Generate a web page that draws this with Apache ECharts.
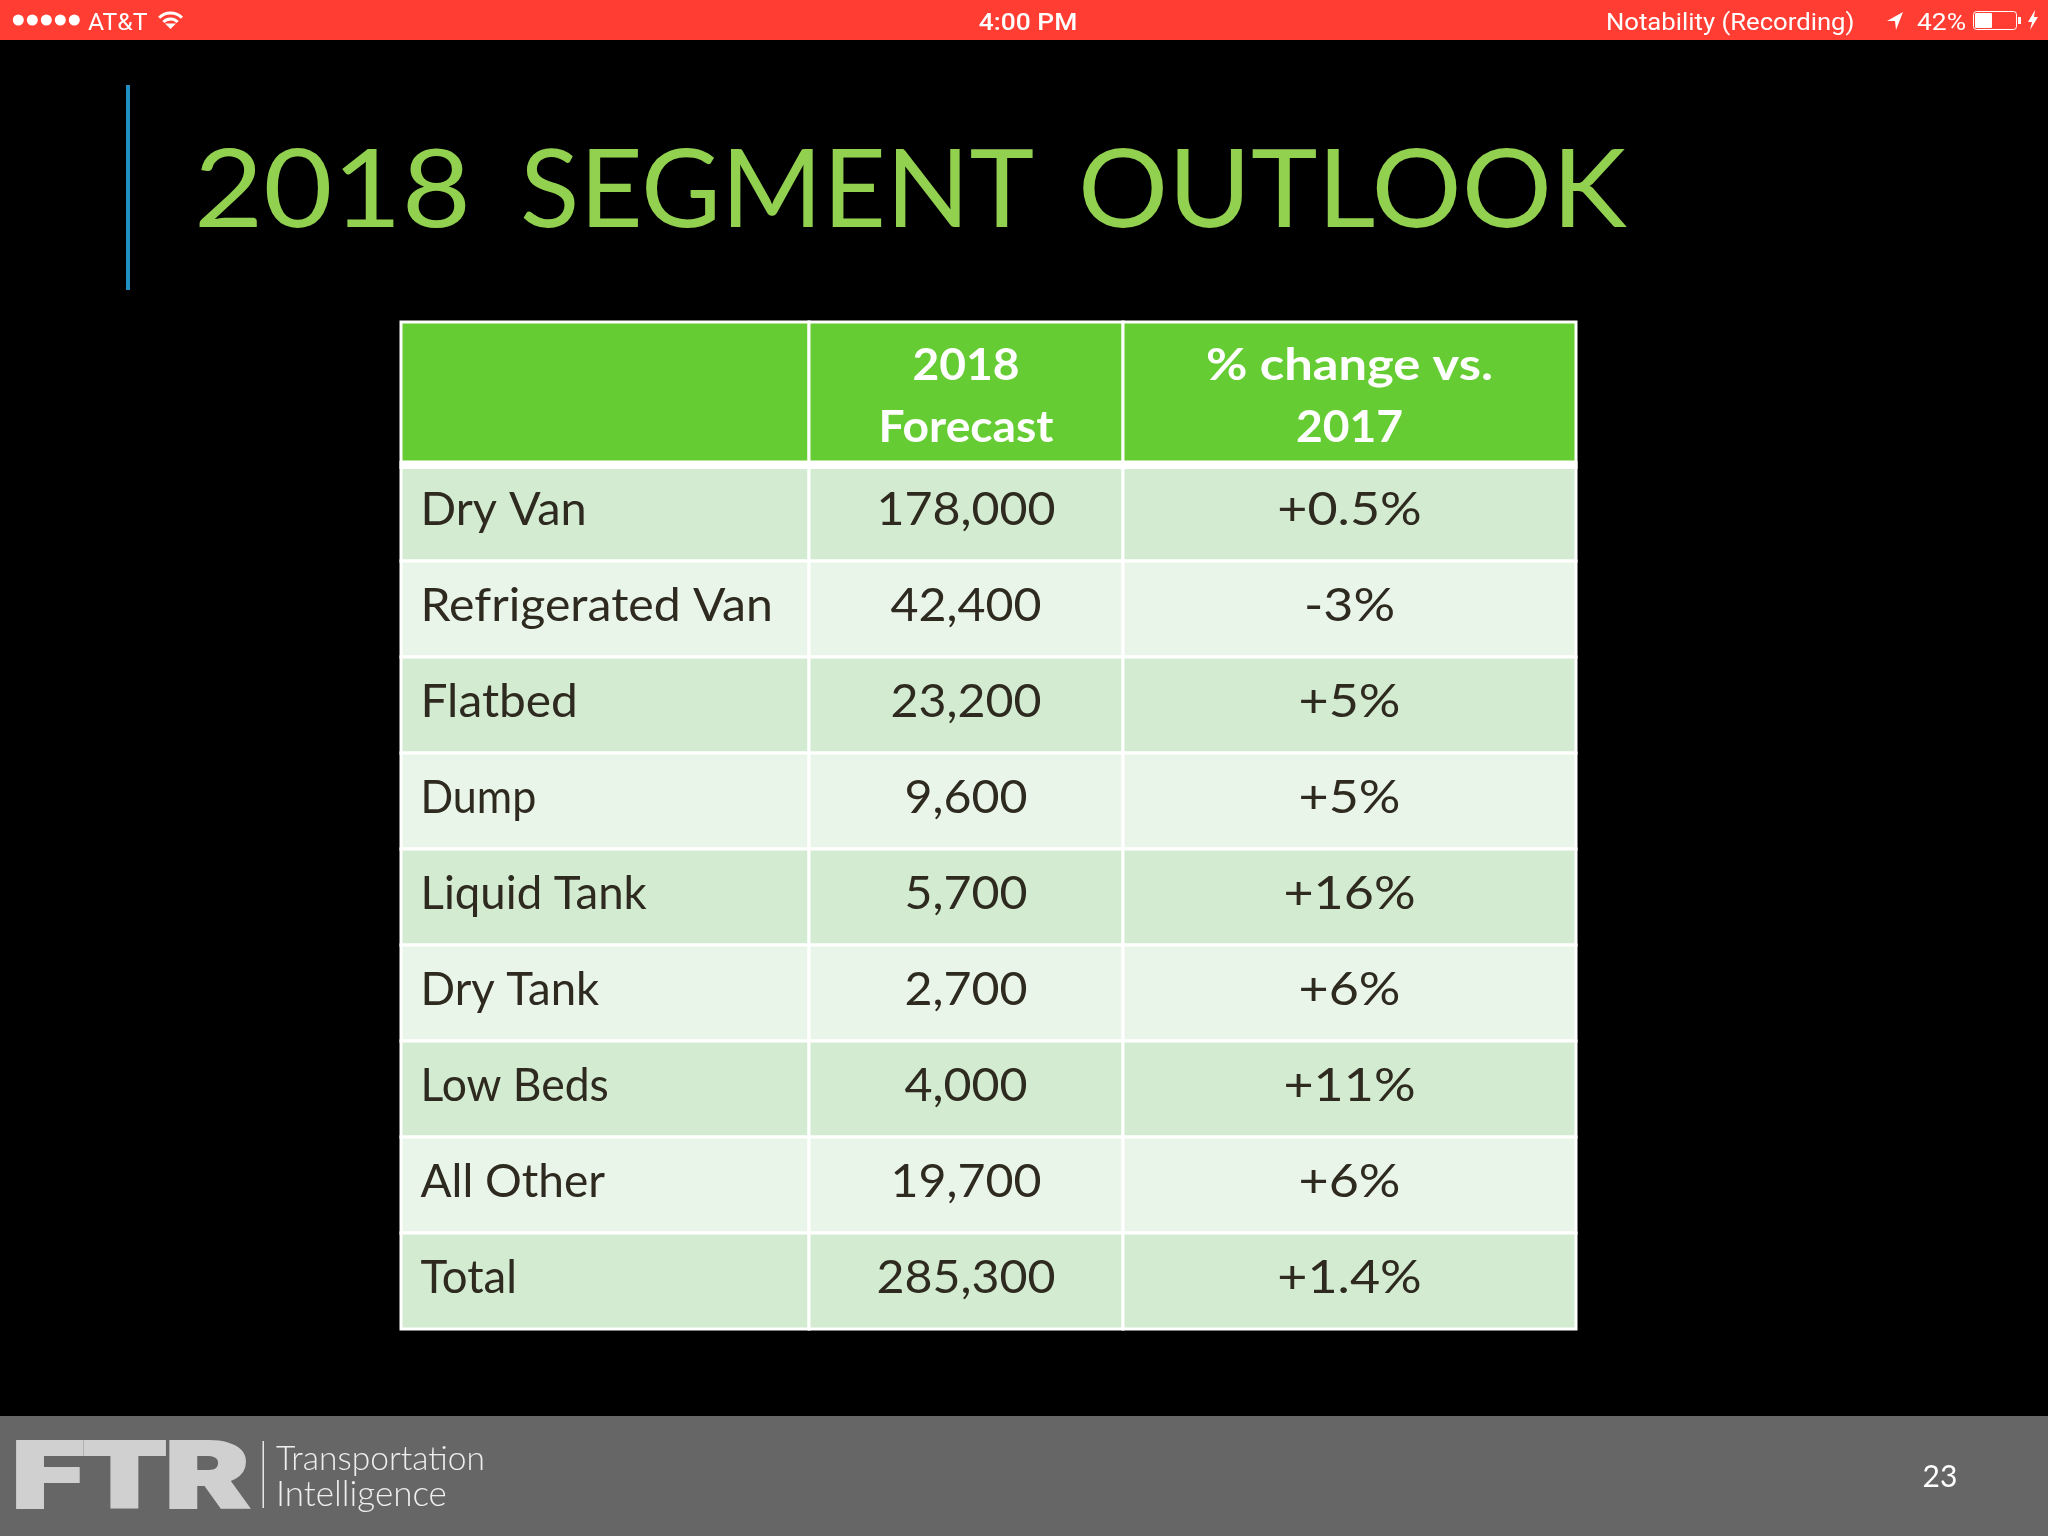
<!DOCTYPE html>
<html>
<head>
<meta charset="utf-8">
<title>2018 Segment Outlook</title>
<script src="https://cdn.jsdelivr.net/npm/echarts@6/dist/echarts.min.js"></script>
<style>
  html, body { margin: 0; padding: 0; background: #000; }
  #main { width: 2048px; height: 1536px; }
</style>
</head>
<body>
<div id="main"></div>
<script>
// table contents
var titleWords = ['2018', 'SEGMENT', 'OUTLOOK'];
var headers = ['', '2018\nForecast', '% change vs.\n2017'];
var segments = ['Dry Van', 'Refrigerated Van', 'Flatbed', 'Dump', 'Liquid Tank', 'Dry Tank', 'Low Beds', 'All Other', 'Total'];
var forecast = [178000, 42400, 23200, 9600, 5700, 2700, 4000, 19700, 285300];
var changes = ['+0.5%', '-3%', '+5%', '+5%', '+16%', '+6%', '+11%', '+6%', '+1.4%'];

// layout
var FONT = 'Lato';
var TABLE_LEFT = 401, COL_EDGES = [0, 408, 722, 1175];
var COL_STRETCH = [1, 1.05, 1.13];
var SEGMENT_STRETCH = [1.02, 1.047, 1.04, 0.935, 0.99, 0.99, 0.966, 1, 0.99];
var HEADER_STRETCH = [[], [1.05, 1.05], [1.15, 1.05]];
var TITLE_X = [194, 520, 1078], TITLE_STRETCH = [1.106, 1.014, 1.043];

function fmt(n) {
  return String(n).replace(/\B(?=(\d{3})+$)/g, ',');
}

var headerCells = headers.map(function (h, c) { return [c, 0]; });
var bodyCells = [];
segments.forEach(function (name, r) {
  [name, fmt(forecast[r]), changes[r]].forEach(function (t, c) {
    bodyCells.push([c, r, t]);
  });
});

function cellRect(api, c) {
  var r = api.value(1);
  var start = api.coord([COL_EDGES[c], r]);
  var end = api.coord([COL_EDGES[c + 1], r]);
  var h = api.size([0, 1])[1];
  return { x: start[0], y: start[1] - h / 2, width: end[0] - start[0], height: h };
}

function renderHeader(params, api) {
  var c = api.value(0);
  var rect = cellRect(api, c);
  var lines = headers[c] ? headers[c].split('\n') : [];
  var kids = [{
    type: 'rect', shape: rect,
    style: { fill: '#66CC33', stroke: '#fff', lineWidth: 3 }
  }, {
    // thick rule under the header row
    type: 'rect', shape: { x: rect.x - 1.5, y: rect.y + rect.height - 1, width: rect.width + 3, height: 8 },
    style: { fill: '#fff' }
  }];
  lines.forEach(function (line, i) {
    kids.push({
      type: 'text',
      x: rect.x + rect.width / 2,
      y: rect.y + 44 + i * 62,
      scaleX: HEADER_STRETCH[c][i],
      style: {
        text: line, fill: '#fff', font: 'bold 44px ' + FONT,
        align: 'center', verticalAlign: 'middle'
      }
    });
  });
  return { type: 'group', children: kids };
}

function renderBody(params, api) {
  var c = api.value(0), r = api.value(1);
  var rect = cellRect(api, c);
  return {
    type: 'group',
    children: [{
      type: 'rect', shape: rect,
      style: { fill: r % 2 === 0 ? '#D3EBD0' : '#EAF5E9', stroke: '#fff', lineWidth: 3 }
    }, {
      type: 'text',
      x: c === 0 ? rect.x + 19.5 : rect.x + rect.width / 2,
      y: rect.y + rect.height / 2 - 2.5,
      scaleX: c === 0 ? SEGMENT_STRETCH[r] : COL_STRETCH[c],
      style: {
        text: bodyCells[params.dataIndex][2], fill: '#2E2A20', font: '46px ' + FONT,
        align: c === 0 ? 'left' : 'center', verticalAlign: 'middle'
      }
    }]
  };
}

function label(x, text, stretch, extra) {
  return {
    type: 'text', x: x, y: 23.5, scaleX: stretch, silent: true,
    style: Object.assign({ text: text, fill: '#fff', font: '24px Roboto', verticalAlign: 'middle' }, extra || {})
  };
}

var decor = [
  // status bar
  { type: 'rect', shape: { x: 0, y: 0, width: 2048, height: 40 }, style: { fill: '#FF3D33' } },
  label(88, 'AT&T', 1.03),
  label(1028, '4:00 PM', 1.1, { align: 'center', font: '500 24px Roboto' }),
  label(1606, 'Notability (Recording)', 1.07),
  label(1917, '42%', 1.1),
  { type: 'polygon', shape: { points: [[1887, 21], [1903, 12], [1896, 30], [1895, 21]] }, style: { fill: '#fff' } },
  { type: 'rect', shape: { x: 1973.5, y: 11.5, width: 43, height: 18, r: 3 }, style: { fill: 'none', stroke: '#fff', lineWidth: 1 } },
  { type: 'rect', shape: { x: 1975, y: 13, width: 17, height: 15, r: 1 }, style: { fill: '#fff' } },
  { type: 'rect', shape: { x: 2018, y: 17, width: 3, height: 7 }, style: { fill: '#fff' } },
  { type: 'polygon', shape: { points: [[2035, 10], [2028, 22], [2032, 22], [2030, 30], [2038, 17], [2034, 17]] }, style: { fill: '#fff' } },
  { type: 'arc', shape: { cx: 170.5, cy: 29, r: 16, startAngle: -2.36, endAngle: -0.78 }, style: { stroke: '#fff', lineWidth: 3, fill: 'none' } },
  { type: 'arc', shape: { cx: 170.5, cy: 29, r: 10, startAngle: -2.36, endAngle: -0.78 }, style: { stroke: '#fff', lineWidth: 3, fill: 'none' } },
  { type: 'polygon', shape: { points: [[170.5, 29], [165, 23.5], [176, 23.5]] }, style: { fill: '#fff' } },
  // signal dots
  { type: 'circle', shape: { cx: 18.3, cy: 20, r: 5.5 }, style: { fill: '#fff' } },
  { type: 'circle', shape: { cx: 32.3, cy: 20, r: 5.5 }, style: { fill: '#fff' } },
  { type: 'circle', shape: { cx: 46.3, cy: 20, r: 5.5 }, style: { fill: '#fff' } },
  { type: 'circle', shape: { cx: 60.3, cy: 20, r: 5.5 }, style: { fill: '#fff' } },
  { type: 'circle', shape: { cx: 74.3, cy: 20, r: 5.5 }, style: { fill: '#fff' } },
  // slide accent
  { type: 'rect', shape: { x: 126, y: 85, width: 4, height: 205 }, style: { fill: '#1F8FC4' } },
  // footer
  { type: 'rect', shape: { x: 0, y: 1416, width: 2048, height: 120 }, style: { fill: '#666' } },
  { type: 'text', x: 12, y: 1484, scaleX: 1.435, style: { text: 'FTR', fill: '#D0D0D0', stroke: '#D0D0D0', lineWidth: 4, font: '900 90px Roboto', verticalAlign: 'middle' } },
  { type: 'rect', shape: { x: 262.5, y: 1441, width: 1.5, height: 67 }, style: { fill: '#E6E6E6' } },
  { type: 'text', x: 276, y: 1459, style: { text: 'Transportation', fill: '#EEE', font: '300 33.5px Lato', verticalAlign: 'middle' } },
  { type: 'text', x: 276, y: 1495, style: { text: 'Intelligence', fill: '#EEE', font: '300 35px Lato', verticalAlign: 'middle' } },
  { type: 'text', x: 1940, y: 1477, style: { text: '23', fill: '#fff', font: '30px Lato', align: 'center', verticalAlign: 'middle' } }
];

titleWords.forEach(function (word, i) {
  decor.push({
    type: 'text', x: TITLE_X[i], y: 192, scaleX: TITLE_STRETCH[i],
    style: { text: word, fill: '#92D050', font: '108px ' + FONT, verticalAlign: 'middle' }
  });
});

var hiddenX = function (idx) {
  return { type: 'value', gridIndex: idx, min: 0, max: COL_EDGES[3], show: false };
};

var chart = echarts.init(document.getElementById('main'));
chart.setOption({
  backgroundColor: '#000',
  animation: false,
  grid: [
    { left: TABLE_LEFT, top: 322, width: COL_EDGES[3], height: 140 },
    { left: TABLE_LEFT, top: 465, width: COL_EDGES[3], height: 864 }
  ],
  xAxis: [hiddenX(0), hiddenX(1)],
  yAxis: [
    { type: 'category', gridIndex: 0, data: ['header'], show: false },
    { type: 'category', gridIndex: 1, data: segments, inverse: true, show: false }
  ],
  series: [
    { type: 'custom', name: 'segments', z: 2, xAxisIndex: 1, yAxisIndex: 1, data: bodyCells.map(function (d) { return [d[0], d[1]]; }), renderItem: renderBody, encode: { x: 0, y: 1 } },
    { type: 'custom', name: 'header', z: 3, xAxisIndex: 0, yAxisIndex: 0, data: headerCells, renderItem: renderHeader, encode: { x: 0, y: 1 } }
  ],
  graphic: decor
});
</script>
</body>
</html>
